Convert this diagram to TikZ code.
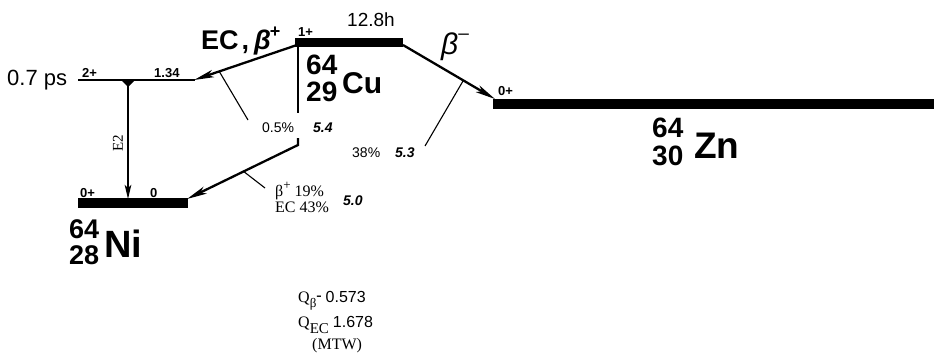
\documentclass[tikz,border=0pt]{standalone}
\usepackage{fontspec}
\setmainfont{Liberation Sans}
\newfontfamily\serf{Liberation Serif}
\usetikzlibrary{arrows.meta,calc}
\begin{document}
\begin{tikzpicture}[x=1pt,y=-1pt,
  lvl/.style={line width=#1},
  decay/.style={line width=2.3pt,-{Stealth[length=20pt,width=7.5pt,inset=5pt]}},
  gam/.style={line width=2pt,-{Stealth[length=14pt,width=6.5pt,inset=3pt]}},
  branch/.style={line width=1.1pt},
  txt/.style={inner sep=0pt,anchor=base west},
  big/.style={txt,font=\fontsize{#1}{#1}\selectfont},
  bigb/.style={txt,font=\fontsize{#1}{#1}\selectfont\bfseries},
  stack/.style={inner sep=0pt,anchor=south west,align=left,font=\fontsize{28}{#1}\selectfont\bfseries},
  small/.style={txt,font=\fontsize{13}{13}\selectfont\bfseries},
  pct/.style={txt,font=\fontsize{14}{14}\selectfont},
  qv/.style={txt,font=\fontsize{14}{14}\selectfont\bfseries\itshape},
  ser/.style={txt,font=\fontsize{#1}{#1}\selectfont\serf},
]
\useasboundingbox (0,0) rectangle (934,356);

% level end points
\coordinate (cuA) at (295,42.5);
\coordinate (cuB) at (403,42.5);
\coordinate (twoA) at (78,80);
\coordinate (twoB) at (195,80);
\coordinate (niA) at (78,203);
\coordinate (niB) at (188,203);
\coordinate (znA) at (493,103.5);
\coordinate (znB) at (934,103.5);

% levels
\draw[lvl=9pt] (cuA) -- (cuB);
\draw[lvl=2pt] (twoA) -- (twoB);
\draw[lvl=10pt] (niA) -- (niB);
\draw[lvl=10pt] (znA) -- (znB);

% decay arrows
\coordinate (cuAb) at (297,45);
\coordinate (cuBb) at (403,45);
\coordinate (twoTip) at (194,80);
\coordinate (znTip) at (495,99);
\coordinate (niTip) at (187,199);
\coordinate (vTop) at (298,45);
\coordinate (vBrk) at (298,113);
\coordinate (vRes) at (298,138);
\coordinate (vBend) at (298,145);
\coordinate (e2Top) at (128,80);
\coordinate (e2Tip) at (128,199);

\draw[decay] (cuAb) -- (twoTip);
\draw[decay] (cuBb) -- (znTip);
\draw[line width=2.3pt] (vTop) -- (vBrk);
\draw[decay] (vRes) -- (vBend) -- (niTip);
\draw[gam] (e2Top) -- (e2Tip);
\fill (121,80) -- (135,80) -- (128,87) -- cycle;

% branch ticks
\coordinate (b1) at ($(cuAb)!0.755!(twoTip)$);
\coordinate (b1e) at (248,120);
\coordinate (b2) at ($(cuBb)!0.656!(znTip)$);
\coordinate (b2e) at (425,146);
\coordinate (b3) at ($(vBend)!0.49!(niTip)$);
\coordinate (b3e) at (265,188);
\draw[branch] (b1) -- (b1e);
\draw[branch] (b2) -- (b2e);
\draw[branch] (b3) -- (b3e);

% labels
\node[big=22] (hl) at (7,85) {0.7 ps};
\node[small] (s2p) at (82,77) {2+};
\node[small] (e134) at (154,77) {1.34};
\node[small] (s1p) at (298,36) {1+};
\node[big=19] (t12) at (347,27) {12.8h};
\node[bigb=27] (ecb) at (201,49) {EC\kern3pt,\kern5pt\textit{β}\kern-1pt\raisebox{0.42em}{\fontsize{18}{18}\selectfont\bfseries +}};
\node[big=30] (bm) at (441,54) {\textit{β}\raisebox{0.5em}{\fontsize{19}{19}\selectfont –}};
\node[small] (n0p) at (80,197) {0+};
\node[small] (n0) at (150,197) {0};
\node[small] (z0p) at (498,95) {0+};
\node[ser=15,rotate=90,anchor=center] (e2) at (118,143) {E2};

\node[pct] (p05) at (262,132) {0.5\%};
\node[qv] (q54) at (313,132) {5.4};
\node[pct] (p38) at (352,157) {38\%};
\node[qv] (q53) at (395,157) {5.3};
\node[ser=16] (pb) at (275,196) {β\raisebox{0.4em}{\fontsize{13}{13}\selectfont +} 19\%};
\node[ser=16] (pec) at (275,212) {EC 43\%};
\node[qv] (q50) at (343,205) {5.0};

% nuclides
\node[stack=27] (cuN) at (306,102) {64\\29};
\node[bigb=30] (cuS) at (342,93) {Cu};
\node[stack=26,font=\fontsize{27}{26}\selectfont\bfseries] (niN) at (69,265) {64\\28};
\node[bigb=38] (niS) at (104,257) {Ni};
\node[stack=28] (znN) at (652,166) {64\\30};
\node[bigb=37] (znS) at (694,158) {Zn};

% Q values
\node[ser=16] (qb) at (298,302) {Q\raisebox{-0.35em}{\fontsize{13}{13}\selectfont β}\raisebox{0.1em}{\bfseries -}\ {\fontspec{Liberation Sans}0.573}};
\node[ser=16] (qec) at (298,327) {Q\raisebox{-0.4em}{\fontsize{15}{15}\selectfont EC}\ {\fontspec{Liberation Sans}1.678}};
\node[ser=16] (mtw) at (312,349) {(MTW)};
\end{tikzpicture}
\end{document}
